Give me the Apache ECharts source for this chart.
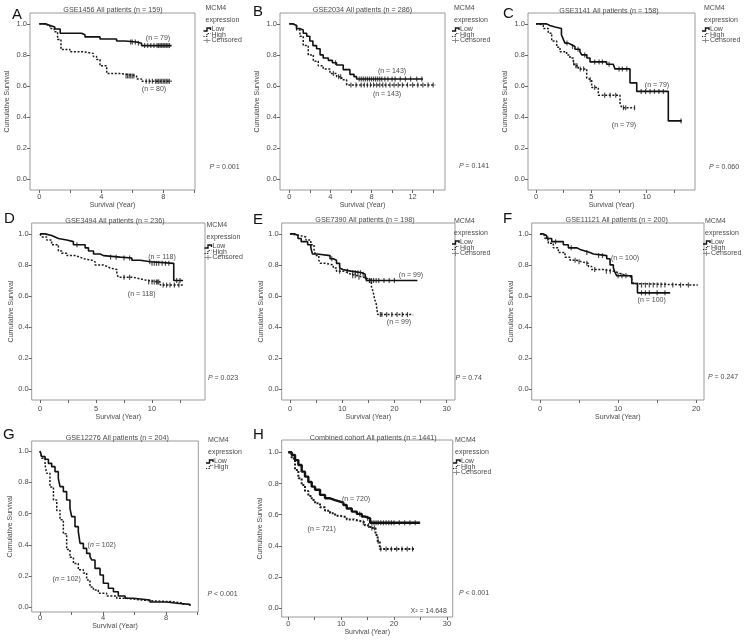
<!DOCTYPE html>
<html><head><meta charset="utf-8">
<script src="https://cdn.jsdelivr.net/npm/echarts@6/dist/echarts.min.js"></script>
<style>html,body{margin:0;padding:0;background:#fff}#c{width:750px;height:641px}</style>
</head><body><div id="c"></div><script>
// ---------- DATA ----------
const yTicks = [0, 0.2, 0.4, 0.6, 0.8, 1.0];

// A: GSE1456
const A_lowT  = [0, 0.4, 0.7, 1.0, 1.35, 2.73, 2.95, 3.92, 4.99, 5.53, 6.28, 6.6, 8.54];
const A_lowS  = [1, 0.99, 0.98, 0.967, 0.94, 0.93, 0.916, 0.903, 0.89, 0.883, 0.875, 0.86, 0.86];
const A_highT = [0, 0.3, 0.69, 0.96, 1.18, 1.4, 1.98, 2.84, 3.49, 3.7, 3.92, 4.35, 5.2, 5.6, 6.28, 6.6, 8.54];
const A_highS = [1, 0.99, 0.97, 0.95, 0.90, 0.835, 0.82, 0.81, 0.79, 0.77, 0.73, 0.68, 0.675, 0.665, 0.645, 0.63, 0.63];
const A_lowCens  = [5.9, 6.0, 6.2, 6.4, 6.8, 7.0, 7.2, 7.4, 7.6, 7.7, 7.8, 7.9, 8.0, 8.1, 8.2, 8.3, 8.4];
const A_highCens = [5.6, 5.7, 5.8, 5.9, 6.0, 6.1, 6.9, 7.1, 7.3, 7.5, 7.6, 7.7, 7.8, 7.9, 8.0, 8.1, 8.2, 8.3, 8.4];

// B: GSE2034
const B_lowT  = [0, 0.39, 0.7, 1.0, 1.36, 1.7, 2.0, 2.3, 2.66, 3.0, 3.3, 3.8, 4.2, 4.6, 5.25, 5.9, 6.3, 6.55, 13.0];
const B_lowS  = [1, 0.99, 0.97, 0.96, 0.94, 0.92, 0.89, 0.86, 0.84, 0.80, 0.78, 0.765, 0.75, 0.735, 0.705, 0.675, 0.66, 0.645, 0.645];
const B_highT = [0, 0.3, 0.72, 1.04, 1.36, 1.85, 2.34, 2.82, 3.3, 3.96, 4.61, 5.1, 5.58, 14.2];
const B_highS = [1, 0.99, 0.96, 0.92, 0.86, 0.80, 0.76, 0.73, 0.71, 0.68, 0.66, 0.64, 0.607, 0.607];
const B_lowCens  = [4.5, 6.8, 7.0, 7.2, 7.4, 7.6, 7.8, 8.0, 8.2, 8.4, 8.6, 8.8, 9.0, 9.3, 9.6, 10.0, 10.3, 10.8, 11.3, 11.8, 12.4, 12.9];
const B_highCens = [4.3, 4.8, 5.0, 6.0, 6.5, 7.0, 7.3, 7.6, 7.9, 8.2, 8.5, 8.8, 9.1, 9.4, 9.8, 10.2, 10.6, 11.0, 11.5, 12.0, 12.5, 13.0, 13.5, 14.0];

// C: GSE3141
const C_lowT  = [0, 0.96, 1.26, 1.72, 2.3, 2.47, 2.62, 2.92, 3.22, 3.52, 3.97, 4.13, 4.6, 4.88, 6.38, 6.98, 7.13, 8.49, 9.1, 11.95, 13.16];
const C_lowS  = [1, 0.99, 0.98, 0.97, 0.93, 0.90, 0.876, 0.865, 0.854, 0.837, 0.82, 0.80, 0.78, 0.755, 0.74, 0.73, 0.71, 0.62, 0.565, 0.375, 0.375];
const C_highT = [0, 0.3, 0.66, 1.11, 1.42, 1.87, 2.17, 2.77, 3.07, 3.37, 3.52, 3.82, 4.58, 4.73, 5.03, 5.63, 7.59, 7.74, 8.94];
const C_highS = [1, 0.99, 0.97, 0.94, 0.89, 0.85, 0.82, 0.80, 0.78, 0.75, 0.73, 0.71, 0.65, 0.64, 0.59, 0.54, 0.49, 0.46, 0.46];
const C_lowCens  = [2.8, 3.3, 3.8, 4.4, 5.3, 5.7, 6.0, 6.6, 7.5, 7.8, 8.2, 9.5, 9.9, 10.3, 10.7, 11.1, 11.5, 13.1];
const C_highCens = [3.4, 3.6, 3.7, 4.0, 4.3, 4.9, 5.3, 6.2, 6.7, 7.2, 7.9, 8.1, 8.9];

// D: GSE3494
const D_lowT  = [0, 0.45, 1.04, 1.34, 1.64, 2.39, 2.98, 4.03, 4.33, 4.78, 5.37, 5.67, 7.16, 8.2, 8.95, 9.85, 11.94, 12.77];
const D_lowS  = [1, 0.99, 0.98, 0.97, 0.96, 0.95, 0.93, 0.91, 0.89, 0.87, 0.86, 0.85, 0.845, 0.83, 0.82, 0.81, 0.70, 0.70];
const D_highT = [0, 0.15, 0.6, 1.04, 1.64, 1.94, 2.39, 3.13, 3.58, 3.88, 4.63, 4.92, 5.67, 5.97, 6.27, 6.86, 7.01, 8.35, 8.95, 9.55, 10.74, 12.83];
const D_highS = [1, 0.98, 0.96, 0.93, 0.89, 0.875, 0.86, 0.85, 0.84, 0.83, 0.82, 0.80, 0.79, 0.78, 0.77, 0.74, 0.72, 0.71, 0.70, 0.69, 0.67, 0.67];
const D_lowCens  = [3.3, 6.3, 6.8, 7.5, 8.0, 9.8, 10.0, 10.2, 10.4, 10.6, 10.9, 11.2, 11.5, 12.2, 12.5];
const D_highCens = [7.5, 8.0, 9.7, 10.0, 10.2, 10.4, 10.5, 10.6, 11.0, 11.3, 11.6, 12.0, 12.4];

// E: GSE7390
const E_lowT  = [0, 0.92, 1.53, 2.15, 3.38, 3.99, 4.3, 5.22, 7.67, 8.29, 8.9, 9.51, 9.82, 10.1, 11.66, 13.8, 14.4, 14.7, 24.4];
const E_lowS  = [1, 0.99, 0.97, 0.95, 0.93, 0.91, 0.87, 0.86, 0.84, 0.83, 0.81, 0.78, 0.77, 0.76, 0.75, 0.74, 0.72, 0.70, 0.70];
const E_highT = [0, 0.31, 1.84, 3.07, 3.99, 4.6, 4.91, 5.52, 5.83, 6.75, 8.29, 8.9, 10.4, 11.05, 11.66, 12.89, 14.1, 15.0, 15.6, 15.9, 16.2, 16.5, 16.8, 23.6];
const E_highS = [1, 0.99, 0.98, 0.96, 0.93, 0.90, 0.86, 0.83, 0.81, 0.80, 0.78, 0.76, 0.75, 0.74, 0.73, 0.72, 0.71, 0.70, 0.66, 0.63, 0.58, 0.55, 0.48, 0.48];
const E_lowCens  = [8.0, 11.0, 12.0, 12.5, 13.0, 13.5, 14.0, 15.2, 15.6, 16.0, 16.5, 17.0, 18.0, 19.0, 20.0];
const E_highCens = [9.5, 12.0, 12.5, 13.2, 14.6, 15.3, 17.3, 17.6, 18.5, 19.5, 20.5, 21.5, 22.5];

// F: GSE11121
const F_lowT  = [0, 0.43, 0.85, 1.5, 2.99, 3.63, 4.7, 5.13, 5.77, 6.41, 6.84, 8.55, 8.97, 9.4, 9.62, 9.83, 11.75, 12.48, 16.67];
const F_lowS  = [1, 0.99, 0.97, 0.95, 0.93, 0.91, 0.90, 0.89, 0.88, 0.87, 0.86, 0.84, 0.80, 0.78, 0.75, 0.73, 0.68, 0.62, 0.62];
const F_highT = [0, 0.21, 0.64, 1.07, 1.71, 2.35, 3.21, 3.85, 4.7, 5.34, 6.2, 6.62, 8.12, 9.4, 10.04, 10.47, 11.33, 11.75, 11.97, 12.18, 20.2];
const F_highS = [1, 0.99, 0.97, 0.94, 0.91, 0.88, 0.85, 0.83, 0.82, 0.81, 0.79, 0.77, 0.76, 0.75, 0.74, 0.73, 0.72, 0.70, 0.68, 0.67, 0.67];
const F_lowCens  = [2.0, 4.0, 6.0, 7.5, 8.0, 10.0, 10.5, 11.0, 13.0, 13.5, 14.0, 15.0, 16.0];
const F_highCens = [1.0, 4.5, 5.0, 6.0, 7.0, 8.5, 9.0, 12.5, 13.0, 13.5, 14.0, 14.5, 15.0, 15.5, 16.0, 17.0, 18.0, 19.0];

// G: GSE12276 (no censor marks)
const G_lowT  = [0, 0.11, 0.32, 0.53, 0.74, 0.95, 1.16, 1.27, 1.48, 1.69, 1.9, 2.01, 2.22, 2.43, 2.54, 2.75, 2.96, 3.17, 3.28, 3.49, 3.81, 4.02, 4.34, 4.66, 4.97, 5.4, 5.93, 6.98, 8.04, 8.68, 9.52];
const G_lowS  = [1, 0.964, 0.947, 0.921, 0.90, 0.868, 0.825, 0.772, 0.74, 0.687, 0.633, 0.58, 0.516, 0.484, 0.409, 0.377, 0.345, 0.324, 0.303, 0.249, 0.207, 0.154, 0.122, 0.10, 0.072, 0.058, 0.047, 0.034, 0.026, 0.019, 0.009];
const G_highT = [0, 0.11, 0.32, 0.42, 0.63, 0.85, 1.06, 1.27, 1.48, 1.69, 1.9, 2.12, 2.43, 2.75, 2.96, 3.17, 3.39, 3.7, 4.23, 4.87, 5.5, 6.35, 7.41, 8.47, 9.1];
const G_highS = [1, 0.953, 0.91, 0.857, 0.77, 0.687, 0.62, 0.56, 0.47, 0.37, 0.32, 0.28, 0.24, 0.22, 0.175, 0.13, 0.11, 0.09, 0.072, 0.058, 0.047, 0.04, 0.036, 0.026, 0.015];
const G_lowCens  = [];
const G_highCens = [];

// H: Combined cohort
const H_lowT  = [0, 0.64, 1.27, 1.9, 2.53, 3.16, 3.79, 4.43, 5.06, 6.0, 6.95, 7.9, 8.85, 9.79, 10.42, 11.05, 12.0, 12.95, 13.9, 14.53, 15.47, 24.94];
const H_lowS  = [1, 0.983, 0.95, 0.919, 0.876, 0.844, 0.81, 0.78, 0.76, 0.727, 0.705, 0.694, 0.684, 0.677, 0.662, 0.64, 0.62, 0.605, 0.588, 0.577, 0.548, 0.548];
const H_highT = [0, 0.64, 1.27, 1.9, 2.53, 3.16, 3.79, 4.43, 5.06, 6.0, 6.95, 7.9, 8.85, 9.79, 11.05, 12.32, 13.58, 14.5, 15.5, 16.5, 16.9, 17.3, 24.0];
const H_highS = [1, 0.96, 0.887, 0.833, 0.79, 0.752, 0.72, 0.694, 0.673, 0.647, 0.626, 0.609, 0.594, 0.583, 0.57, 0.56, 0.549, 0.53, 0.515, 0.47, 0.43, 0.38, 0.38];
const H_lowCens  = [13.5, 15.0, 15.8, 16.2, 16.6, 17.0, 17.5, 18.0, 18.5, 19.0, 19.5, 20.0, 21.0, 22.0, 23.0, 24.0];
const H_highCens = [14.2, 15.2, 15.8, 16.3, 17.0, 17.5, 18.5, 19.5, 20.5, 21.5, 22.5, 23.5];

// tick sets
const xTicks2to10 = [0, 2, 4, 6, 8, 10];   const xLab4to8 = [0, 4, 8];
const xTicks2to14 = [0, 2, 4, 6, 8, 10, 12, 14]; const xLab4to12 = [0, 4, 8, 12];
const xTicks25 = [0, 2.5, 5, 7.5, 10, 12.5]; const xLab5 = [0, 5, 10];
const xTicks5to30 = [0, 5, 10, 15, 20, 25, 30]; const xLab10to30 = [0, 10, 20, 30];
const xTicks5to20 = [0, 5, 10, 15, 20]; const xLab10to20 = [0, 10, 20];

// text
const titles = ['GSE1456 All patients (n = 159)', 'GSE2034 All patients (n = 286)', 'GSE3141 All patients (n = 158)',
  'GSE3494 All patients (n = 236)', 'GSE7390 All patients (n = 198)', 'GSE11121 All patients (n = 200)',
  'GSE12276 All patients (n = 204)', 'Combined cohort All patients (n = 1441)'];
const letters = ['A', 'B', 'C', 'D', 'E', 'F', 'G', 'H'];
const pTexts = ['= 0.001', '= 0.141', '= 0.060', '= 0.023', '= 0.74', '= 0.247', '< 0.001', '< 0.001'];
const nLow  = ['79', '143', '79', '118', '99', '100', '102', '720'];
const nHigh = ['80', '143', '79', '118', '99', '100', '102', '721'];

// ---------- LAYOUT (pixels) ----------
const FF = '"Liberation Sans", Arial, sans-serif';
const TXT = '#4a4a4a';
const panels = [
  {low:[A_lowT,A_lowS], high:[A_highT,A_highS], lc:A_lowCens, hc:A_highCens, box:[30,13,195,190], xr:[-0.6,10.05], yr:[-0.07,1.07], xt:xTicks2to10, xl:xLab4to8,
   letter:[12,15], title:[113,10.5], leg:[205.5,8], p:[224.5,166.7], nL:[158,38], nH:[154,89], lm:3, ng:9, yg:19, cens:true},
  {low:[B_lowT,B_lowS], high:[B_highT,B_highS], lc:B_lowCens, hc:B_highCens, box:[280,13,445,190], xr:[-0.9,15.15], yr:[-0.07,1.07], xt:xTicks2to14, xl:xLab4to12,
   letter:[253,12], title:[362.5,10.5], leg:[454,8], p:[474,165.7], nL:[392,70.7], nH:[387,94.3], lm:3, ng:9, yg:19, cens:true},
  {low:[C_lowT,C_lowS], high:[C_highT,C_highS], lc:C_lowCens, hc:C_highCens, box:[528,13,695,190], xr:[-0.72,14.36], yr:[-0.07,1.07], xt:xTicks25, xl:xLab5,
   letter:[503,14], title:[609,11], leg:[704,8], p:[724,166.7], nL:[657,85], nH:[624,125], lm:3, ng:9, yg:19, cens:true},
  {low:[D_lowT,D_lowS], high:[D_highT,D_highS], lc:D_lowCens, hc:D_highCens, box:[31.7,223,205,400], xr:[-0.74,14.73], yr:[-0.07,1.07], xt:xTicks25, xl:xLab5,
   letter:[4,219], title:[115,221], leg:[206.5,225], p:[223,378.3], nL:[162,256.7], nH:[141.7,294.3], lm:5, ng:13, yg:17, cens:true},
  {low:[E_lowT,E_lowS], high:[E_highT,E_highS], lc:E_lowCens, hc:E_highCens, box:[281.7,223,455,400], xr:[-1.59,31.6], yr:[-0.07,1.07], xt:xTicks5to30, xl:xLab10to30,
   letter:[253,220], title:[365,220.5], leg:[454,221], p:[468.7,377.7], nL:[411,275], nH:[399,322.3], lm:5, ng:13, yg:17, cens:true},
  {low:[F_lowT,F_lowS], high:[F_highT,F_highS], lc:F_lowCens, hc:F_highCens, box:[531.7,223,704,400], xr:[-1.06,21.0], yr:[-0.07,1.07], xt:xTicks5to20, xl:xLab10to20,
   letter:[503,219], title:[616.7,220.5], leg:[705,221], p:[723,376.7], nL:[625,258.3], nH:[651.7,300], lm:5, ng:13, yg:17, cens:true},
  {low:[G_lowT,G_lowS], high:[G_highT,G_highS], lc:G_lowCens, hc:G_highCens, box:[31.7,441,198.3,612], xr:[-0.53,10.05], yr:[-0.03,1.064], xt:xTicks2to10, xl:xLab4to8,
   letter:[3,435], title:[117.3,438.5], leg:[208,440], p:[222.5,594], nL:[101.7,545], nH:[66.7,579.3], lm:2, ng:8, yg:18, cens:false, italicN:true},
  {low:[H_lowT,H_lowS], high:[H_highT,H_highS], lc:H_lowCens, hc:H_highCens, box:[281.7,440,452.7,617], xr:[-1.25,31.1], yr:[-0.056,1.079], xt:xTicks5to30, xl:xLab10to30,
   letter:[253,435], title:[373.3,438.5], leg:[455,440], p:[474,593.3], nL:[356,499], nH:[321.7,529], lm:3, ng:11, yg:18, cens:true, thick:true, chi:[428.7,611]}
];

function survAt(T, S, t) { let s = S[0]; for (let i = 0; i < T.length; i++) if (T[i] <= t) s = S[i]; return s; }
function pairs(T, S) { return T.map((t, i) => [t, S[i]]); }

const grids = [], xAxes = [], yAxes = [], series = [], graphics = [];
function txt(x, y, text, size, opts) {
  graphics.push(Object.assign({type:'text', silent:true, z:100, style:Object.assign({x, y, text, fill:TXT, fontSize:size, fontFamily:FF, align:'center', verticalAlign:'middle'}, opts||{})}));
}
panels.forEach((p, i) => {
  const [l, t, r, b] = p.box;
  grids.push({left:l, top:t, width:r-l, height:b-t, show:true, borderColor:'#9a9a9a', borderWidth:1, backgroundColor:'#fff'});
  xAxes.push({type:'value', gridIndex:i, position:'bottom', min:p.xr[0], max:p.xr[1], splitLine:{show:false},
    axisLine:{show:false, onZero:false}, axisTick:{show:true, inside:false, customValues:p.xt, length:3, lineStyle:{color:'#666'}},
    axisLabel:{customValues:p.xl, fontSize:7.5, color:TXT, fontFamily:FF, margin:p.lm, formatter:v=>String(v)},
    name:'Survival (Year)', nameLocation:'middle', nameGap:p.ng, nameTextStyle:{fontSize:7, color:TXT, fontFamily:FF}});
  yAxes.push({type:'value', gridIndex:i, position:'left', min:p.yr[0], max:p.yr[1], splitLine:{show:false},
    axisLine:{show:false, onZero:false}, axisTick:{show:true, inside:false, customValues:yTicks, length:3, lineStyle:{color:'#666'}},
    axisLabel:{customValues:yTicks, fontSize:7.5, color:TXT, fontFamily:FF, margin:3, formatter:v=>v.toFixed(1)},
    name:'Cumulative Survival', nameLocation:'middle', nameGap:p.yg, nameTextStyle:{fontSize:7, color:TXT, fontFamily:FF}});
  const lw = p.thick ? 2.4 : 1.6;
  const hw = p.thick ? 2.0 : 1.5;
  series.push({type:'line', xAxisIndex:i, yAxisIndex:i, step:'end', showSymbol:false, silent:true, animation:false,
    data:pairs(p.low[0], p.low[1]), lineStyle:{color:'#111', width:lw}});
  series.push({type:'line', xAxisIndex:i, yAxisIndex:i, step:'end', showSymbol:false, silent:true, animation:false,
    data:pairs(p.high[0], p.high[1]), lineStyle:{color:'#1a1a1a', width:hw, type:[2, 1.6]}});
  if (p.lc.length) series.push({type:'scatter', xAxisIndex:i, yAxisIndex:i, silent:true, animation:false, symbol:'rect', symbolSize:[1.2, 5],
    itemStyle:{color:'#222'}, data:p.lc.map(c => [c, survAt(p.low[0], p.low[1], c)])});
  if (p.hc.length) series.push({type:'scatter', xAxisIndex:i, yAxisIndex:i, silent:true, animation:false, symbol:'rect', symbolSize:[1.2, 5],
    itemStyle:{color:'#222'}, data:p.hc.map(c => [c, survAt(p.high[0], p.high[1], c)])});

  txt(p.letter[0], p.letter[1], letters[i], 15, {align:'left', fill:'#111'});
  txt(p.title[0], p.title[1], titles[i], 7.2);
  const [lx, m] = p.leg;
  txt(lx, m, 'MCM4', 7, {align:'left'});
  txt(lx, m + 12, 'expression', 7, {align:'left'});
  const yl = m + 21.5, yh = m + 27, yc = m + 32.5;
  graphics.push({type:'polyline', silent:true, shape:{points:[[lx-2,yl+1.5],[lx+1.5,yl+1.5],[lx+1.5,yl-1.5],[lx+5,yl-1.5],[lx+5,yl+0.5]]}, style:{stroke:'#111', lineWidth:1.4, fill:null}});
  txt(lx + 6, yl, 'Low', 7, {align:'left'});
  graphics.push({type:'polyline', silent:true, shape:{points:[[lx-2,yh+1.5],[lx+1.5,yh+1.5],[lx+1.5,yh-1.5],[lx+5,yh-1.5]]}, style:{stroke:'#222', lineWidth:1.2, lineDash:[1.2,1.2], fill:null}});
  txt(lx + 6, yh, 'High', 7, {align:'left'});
  if (p.cens) {
    graphics.push({type:'line', silent:true, shape:{x1:lx-2, y1:yc, x2:lx+5, y2:yc}, style:{stroke:'#777', lineWidth:0.8}});
    graphics.push({type:'line', silent:true, shape:{x1:lx+1.5, y1:yc-2.5, x2:lx+1.5, y2:yc+2.5}, style:{stroke:'#777', lineWidth:0.8}});
    txt(lx + 6, yc, 'Censored', 7, {align:'left'});
  }
  txt(p.p[0], p.p[1], '{i|P} ' + pTexts[i], 7, {rich:{i:{fontStyle:'italic', fontSize:7, fontFamily:FF, fill:TXT}}});
  const nrich = {rich:{i:{fontStyle:'italic', fontSize:7, fontFamily:FF, fill:TXT}}};
  const nn = p.italicN ? '{i|n}' : 'n';
  txt(p.nL[0], p.nL[1], '(' + nn + ' = ' + nLow[i] + ')', 7, nrich);
  txt(p.nH[0], p.nH[1], '(' + nn + ' = ' + nHigh[i] + ')', 7, nrich);
  if (p.chi) txt(p.chi[0], p.chi[1], 'X\u00B2 = 14.648', 7);
});

const chart = echarts.init(document.getElementById('c'), null, {renderer:'canvas'});
chart.setOption({animation:false, backgroundColor:'#fff', grid:grids, xAxis:xAxes, yAxis:yAxes, series, graphic:graphics});
</script></body></html>
